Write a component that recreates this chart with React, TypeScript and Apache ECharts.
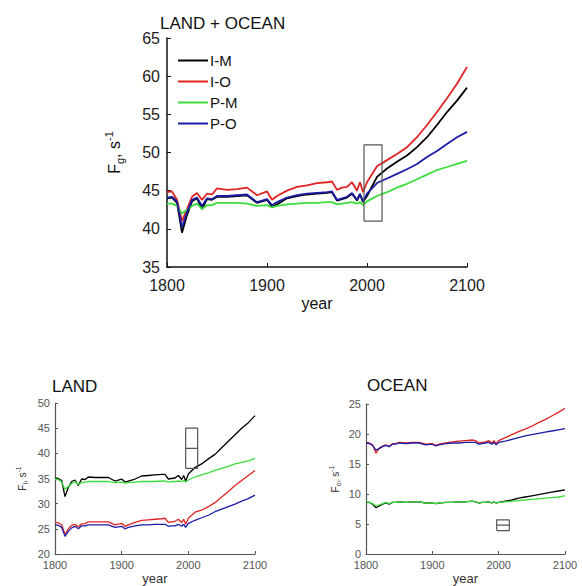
import React, { useEffect, useRef } from "react";
import * as echarts from "echarts";

const YEARS = [1800, 1805, 1810, 1815, 1820, 1825, 1830, 1835, 1840, 1845, 1850, 1860, 1870, 1880, 1890, 1900, 1905, 1910, 1920, 1930, 1940, 1950, 1960, 1965, 1970, 1975, 1980, 1985, 1990, 1993, 1996, 2000, 2010, 2020, 2030, 2040, 2050, 2060, 2070, 2080, 2090, 2100];

const SERIES_NAMES = ["I-M", "I-O", "P-M", "P-O"];

// LAND + OCEAN (F_g)
const G_IM = [44.0, 44.1, 43.4, 39.5, 41.8, 43.6, 44.0, 42.6, 43.9, 43.8, 44.2, 44.2, 44.3, 44.4, 43.4, 43.8, 42.9, 43.2, 44.0, 44.3, 44.5, 44.6, 44.7, 44.8, 43.7, 43.9, 44.1, 44.6, 43.7, 44.5, 43.5, 44.3, 46.8, 47.9, 48.8, 49.6, 50.7, 52.0, 53.6, 55.3, 56.8, 58.5];
const G_IO = [44.8, 44.9, 43.8, 41.0, 42.6, 44.2, 44.7, 43.8, 44.6, 44.5, 45.3, 45.1, 45.2, 45.4, 44.4, 44.9, 43.8, 44.3, 45.0, 45.5, 45.7, 46.0, 46.1, 46.2, 45.1, 45.4, 45.5, 46.1, 45.0, 46.1, 44.8, 46.1, 48.2, 49.0, 49.8, 50.7, 52.0, 53.6, 55.3, 57.1, 59.0, 61.2];
const G_PM = [43.3, 43.3, 43.0, 42.0, 42.5, 43.0, 43.3, 42.6, 43.1, 43.1, 43.4, 43.4, 43.4, 43.3, 43.0, 43.1, 42.8, 43.0, 43.2, 43.3, 43.4, 43.4, 43.5, 43.5, 43.2, 43.3, 43.4, 43.5, 43.3, 43.5, 43.1, 43.6, 44.3, 44.8, 45.4, 45.9, 46.5, 47.1, 47.7, 48.1, 48.5, 48.9];
const G_PO = [44.1, 44.2, 43.6, 40.2, 42.2, 43.8, 44.1, 43.0, 44.0, 43.9, 44.3, 44.3, 44.4, 44.5, 43.5, 43.9, 43.1, 43.5, 44.1, 44.4, 44.6, 44.7, 44.8, 44.9, 43.8, 44.0, 44.2, 44.7, 43.8, 44.6, 43.6, 44.6, 46.0, 46.6, 47.2, 47.8, 48.5, 49.4, 50.2, 51.1, 52.0, 52.7];

// LAND (F_l)
const L_IM = [35.1, 35.0, 34.6, 31.4, 33.2, 34.4, 34.7, 33.6, 34.9, 34.8, 35.3, 35.2, 35.2, 35.2, 34.5, 34.9, 34.3, 34.5, 34.9, 35.5, 35.6, 35.7, 35.8, 35.8, 34.9, 35.0, 35.1, 35.6, 34.8, 35.6, 34.5, 35.9, 37.2, 37.9, 38.9, 39.8, 41.1, 42.4, 43.7, 45.0, 46.1, 47.5];
const L_IO = [26.3, 26.2, 25.8, 23.9, 25.0, 25.7, 25.9, 25.4, 26.0, 26.0, 26.4, 26.4, 26.4, 26.4, 25.8, 26.1, 25.5, 25.8, 26.3, 26.7, 26.8, 26.9, 27.0, 27.1, 26.3, 26.4, 26.5, 26.9, 26.2, 26.9, 25.9, 27.1, 28.3, 28.7, 29.4, 30.2, 31.3, 32.4, 33.6, 34.6, 35.6, 36.6];
const L_PM = [34.9, 34.8, 34.3, 32.8, 33.4, 34.0, 34.4, 33.8, 34.2, 34.3, 34.4, 34.4, 34.4, 34.4, 34.2, 34.3, 34.1, 34.2, 34.3, 34.4, 34.4, 34.4, 34.5, 34.5, 34.3, 34.4, 34.4, 34.5, 34.4, 34.6, 34.3, 34.7, 35.3, 35.7, 36.1, 36.6, 37.0, 37.4, 37.9, 38.2, 38.5, 39.0];
const L_PO = [25.8, 25.7, 25.3, 23.5, 24.5, 25.2, 25.5, 25.0, 25.6, 25.6, 25.8, 25.8, 25.8, 25.8, 25.3, 25.5, 25.0, 25.3, 25.6, 25.8, 25.8, 25.9, 25.9, 25.9, 25.5, 25.6, 25.6, 25.9, 25.5, 25.9, 25.3, 26.1, 26.7, 27.2, 27.7, 28.4, 28.9, 29.4, 29.9, 30.5, 31.0, 31.7];

// OCEAN (F_o)
const O_IM = [8.6, 8.6, 8.3, 7.7, 8.0, 8.3, 8.5, 8.3, 8.6, 8.6, 8.7, 8.6, 8.7, 8.7, 8.5, 8.5, 8.4, 8.5, 8.6, 8.6, 8.7, 8.7, 8.8, 8.7, 8.5, 8.6, 8.6, 8.7, 8.5, 8.7, 8.5, 8.6, 8.8, 9.0, 9.3, 9.5, 9.7, 9.9, 10.1, 10.3, 10.5, 10.7];
const O_IO = [18.6, 18.5, 18.2, 16.8, 17.6, 18.0, 18.2, 17.9, 18.4, 18.4, 18.6, 18.5, 18.6, 18.6, 18.3, 18.4, 18.1, 18.3, 18.5, 18.7, 18.8, 18.9, 19.0, 18.9, 18.5, 18.6, 18.7, 18.9, 18.5, 18.9, 18.4, 18.9, 19.4, 19.9, 20.4, 20.8, 21.3, 21.9, 22.4, 23.0, 23.6, 24.3];
const O_PM = [8.7, 8.6, 8.4, 8.0, 8.2, 8.4, 8.6, 8.4, 8.6, 8.6, 8.7, 8.6, 8.7, 8.7, 8.5, 8.5, 8.4, 8.5, 8.6, 8.6, 8.7, 8.7, 8.8, 8.7, 8.5, 8.6, 8.6, 8.7, 8.5, 8.7, 8.5, 8.6, 8.7, 8.8, 8.9, 9.0, 9.1, 9.2, 9.3, 9.4, 9.5, 9.7];
const O_PO = [18.5, 18.4, 18.1, 17.3, 17.6, 17.9, 18.1, 17.9, 18.3, 18.3, 18.5, 18.4, 18.5, 18.5, 18.2, 18.3, 18.0, 18.2, 18.4, 18.5, 18.5, 18.6, 18.6, 18.6, 18.3, 18.4, 18.5, 18.6, 18.3, 18.6, 18.2, 18.6, 18.8, 19.1, 19.4, 19.7, 19.9, 20.1, 20.3, 20.5, 20.7, 20.9];

// marker boxes: [x0, x1], [y0, y1], middle line
const BOX_G_X = [1997, 2015];
const BOX_G_Y = [41, 51];
const BOX_L_X = [1996, 2014];
const BOX_L_Y = [37, 45];
const BOX_L_MID = 41;
const BOX_O_X = [1997, 2016];
const BOX_O_Y = [3.9, 5.7];
const BOX_O_MID = 4.8;

const X_TICKS = [1800, 2100, 100];
const G_Y_RANGE = [35, 65, 5];
const L_Y_RANGE = [20, 50, 5];
const O_Y_RANGE = [0, 25, 5];

const COLORS = ["#000000", "#e02424", "#3cdc3c", "#1c1ca6"];
const FONT = "Liberation Sans, Arial, sans-serif";

export default function App() {
  const ref = useRef<HTMLDivElement>(null);
  useEffect(() => {
    document.body.style.margin = "0";
    const chart = echarts.init(ref.current!, undefined, { renderer: "svg" });

    const panels = [
      { vals: [G_IM, G_IO, G_PM, G_PO], width: 1.8 },
      { vals: [L_IM, L_IO, L_PM, L_PO], width: 1.3 },
      { vals: [O_IM, O_IO, O_PM, O_PO], width: 1.3 },
    ];

    const series: any[] = [];
    panels.forEach((p, gi) => {
      p.vals.forEach((v, si) => {
        series.push({
          type: "line",
          name: SERIES_NAMES[si],
          xAxisIndex: gi,
          yAxisIndex: gi,
          data: YEARS.map((y, i) => [y, v[i]]),
          symbol: "none",
          lineStyle: { color: COLORS[si], width: p.width },
          itemStyle: { color: COLORS[si] },
          z: 3,
        });
      });
    });

    const rect = (xs: number[], ys: number[]) => [
      [xs[0], ys[0]], [xs[1], ys[0]], [xs[1], ys[1]], [xs[0], ys[1]], [xs[0], ys[0]],
    ];
    const boxStyle = { color: "#555", width: 1.2 };
    const boxSeries = (gi: number, data: number[][]) => ({
      type: "line",
      name: "box",
      xAxisIndex: gi,
      yAxisIndex: gi,
      data,
      symbol: "none",
      silent: true,
      lineStyle: boxStyle,
      itemStyle: { color: "#555" },
      z: 4,
    });
    series.push(boxSeries(0, rect(BOX_G_X, BOX_G_Y)));
    series.push(boxSeries(1, rect(BOX_L_X, BOX_L_Y)));
    series.push(boxSeries(1, [[BOX_L_X[0], BOX_L_MID], [BOX_L_X[1], BOX_L_MID]]));
    series.push(boxSeries(2, rect(BOX_O_X, BOX_O_Y)));
    series.push(boxSeries(2, [[BOX_O_X[0], BOX_O_MID], [BOX_O_X[1], BOX_O_MID]]));

    const mkX = (gi: number, big: boolean) => ({
      type: "value",
      gridIndex: gi,
      min: X_TICKS[0],
      max: X_TICKS[1],
      interval: X_TICKS[2],
      name: "year",
      nameLocation: "middle",
      nameGap: big ? 28 : 18,
      nameTextStyle: { fontSize: big ? 16 : 13, color: big ? "#111" : "#333", fontFamily: FONT },
      axisLine: { show: true, lineStyle: { color: big ? "#111" : "#555", width: big ? 1.5 : 1.2 } },
      axisTick: { show: true, inside: true, length: big ? 4 : 3, lineStyle: { color: big ? "#111" : "#555" } },
      axisLabel: {
        fontSize: big ? 16 : 11,
        color: big ? "#222" : "#555",
        margin: big ? 10 : 5,
        fontFamily: FONT,
        formatter: (v: number) => String(v),
      },
      splitLine: { show: false },
    });
    const mkY = (gi: number, big: boolean, range: number[], sub: string, gap: number) => ({
      type: "value",
      gridIndex: gi,
      min: range[0],
      max: range[1],
      interval: range[2],
      name: `{a|F}{b|${sub}}{a|, s}{c|-1}`,
      nameLocation: "middle",
      nameRotate: 90,
      nameGap: gap,
      nameTextStyle: {
        color: big ? "#111" : "#333",
        fontFamily: FONT,
        rich: {
          a: { fontSize: big ? 16 : 10, lineHeight: big ? 22 : 14, color: big ? "#111" : "#333", fontFamily: FONT },
          b: { fontSize: big ? 11 : 7, lineHeight: big ? 11 : 7, verticalAlign: "bottom", color: big ? "#111" : "#333", fontFamily: FONT },
          c: { fontSize: big ? 11 : 7, lineHeight: big ? 11 : 7, verticalAlign: "top", color: big ? "#111" : "#333", fontFamily: FONT },
        },
      },
      axisLine: { show: true, lineStyle: { color: big ? "#111" : "#555", width: big ? 1.5 : 1.2 } },
      axisTick: { show: true, inside: true, length: big ? 4 : 3, lineStyle: { color: big ? "#111" : "#555" } },
      axisLabel: {
        fontSize: big ? 16 : 11,
        color: big ? "#222" : "#555",
        margin: big ? 7 : 5,
        fontFamily: FONT,
        padding: big ? 0 : [0, 0, 3, 0],
      },
      splitLine: { show: false },
    });

    chart.setOption({
      animation: false,
      backgroundColor: "#fff",
      title: [
        { text: "LAND + OCEAN", left: 155, top: 10, textStyle: { fontSize: 17, fontWeight: "normal", color: "#111", fontFamily: FONT } },
        { text: "LAND", left: 47, top: 373, textStyle: { fontSize: 17, fontWeight: "normal", color: "#111", fontFamily: FONT } },
        { text: "OCEAN", left: 362, top: 372, textStyle: { fontSize: 17, fontWeight: "normal", color: "#111", fontFamily: FONT } },
      ],
      legend: {
        data: SERIES_NAMES,
        orient: "vertical",
        left: 178,
        top: 50,
        icon: "rect",
        itemWidth: 30,
        itemHeight: 2,
        itemGap: 0,
        padding: 0,
        textStyle: { fontSize: 15, lineHeight: 21, color: "#111", fontFamily: FONT, padding: [0, 0, 0, -3] },
      },
      grid: [
        { left: 167, top: 38, width: 300, height: 229 },
        { left: 55, top: 403, width: 200, height: 153 },
        { left: 366, top: 404, width: 199, height: 152 },
      ],
      xAxis: [mkX(0, true), mkX(1, false), mkX(2, false)],
      yAxis: [
        mkY(0, true, G_Y_RANGE, "g", 42),
        mkY(1, false, L_Y_RANGE, "l", 26),
        mkY(2, false, O_Y_RANGE, "o", 24),
      ],
      series,
    });
    return () => chart.dispose();
  }, []);
  return <div ref={ref} style={{ width: 582, height: 586 }} />;
}
